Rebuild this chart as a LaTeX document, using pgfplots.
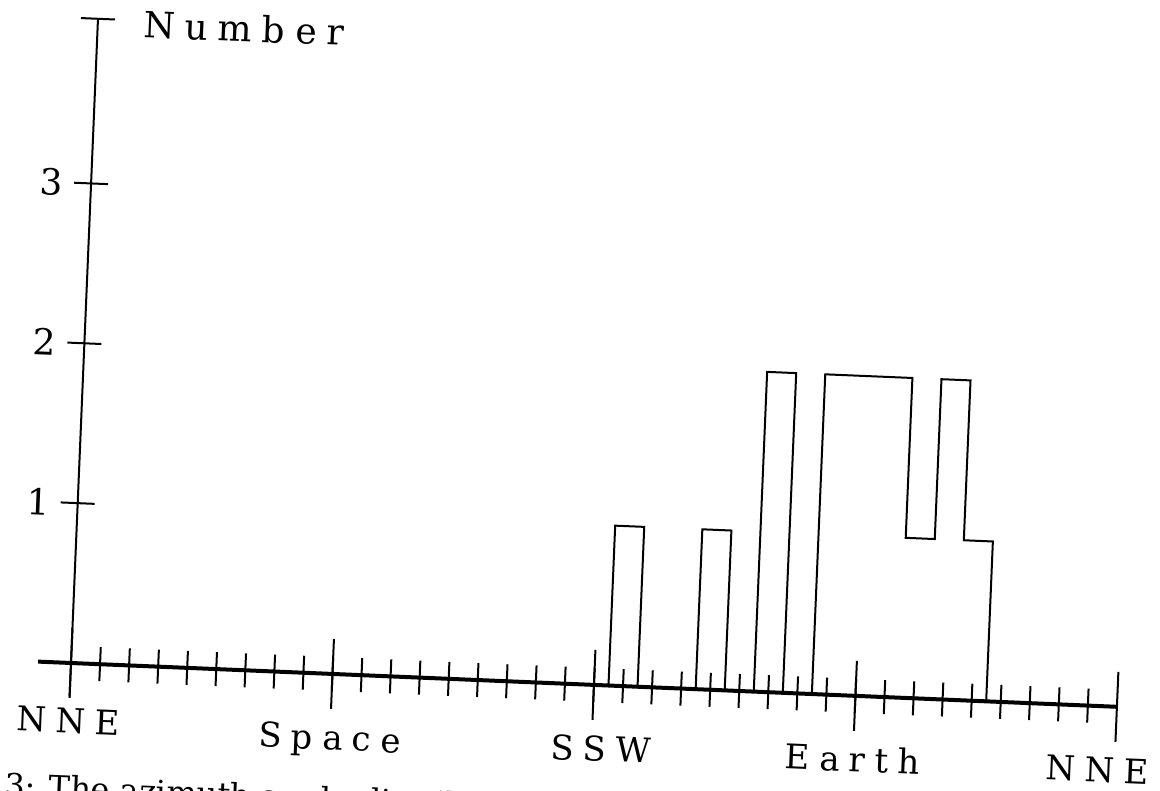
\documentclass[border=0pt]{standalone}
\usepackage{pgfplots}
\pgfplotsset{compat=1.18}
\usepackage{pgfplotstable}
\usepackage{fontspec}
\setmainfont{DejaVu Serif}
\newfontfamily\lblfont[LetterSpace=28]{DejaVu Serif}

\pgfplotstableread{
x y
0 0
1 0
2 0
3 0
4 0
5 0
6 0
7 0
8 0
9 0
10 0
11 0
12 0
13 0
14 0
15 0
16 0
17 0
18 0
19 1
20 0
21 0
22 1
23 0
24 2
25 0
26 2
27 2
28 2
29 1
30 2
31 1
32 0
33 0
34 0
35 0
36 0
}\histdata

\begin{document}
\begin{tikzpicture}
\useasboundingbox (0,0) rectangle (580pt,395.5pt);
\begin{scope}[shift={(35.5pt,64pt)}, rotate=-2.4, transform shape]
\begin{axis}[
  at={(0,0)}, anchor=origin,
  x=14.54pt, y=80pt,
  xmin=-1.13, xmax=36, ymin=-0.21, ymax=4.03,
  axis lines=middle,
  axis line style={-},
  x axis line style={line width=2pt},
  y axis line style={line width=1pt},
  clip=false,
  tick align=center,
  major tick length=17pt,
  every tick/.style={black, line width=1pt},
  xtick={1,...,35},
  xticklabels={},
  extra x ticks={0,9,18,27,36},
  extra x tick labels={\raisebox{3pt}{NNE},Space,\hspace*{10pt}SSW,Earth,NNE\hspace*{17pt}},
  extra x tick style={major tick length=35pt},
  ytick={1,2,3,4.03},
  yticklabels={1,2,3,{}},
  /pgf/number format/assume math mode=true,
  xticklabel style={font=\lblfont\fontsize{17}{20}\selectfont, anchor=base, yshift=-20.5pt},
  yticklabel style={font=\fontsize{18}{21}\selectfont, anchor=east, xshift=-2pt},
]
\addplot[const plot mark mid, line width=1pt, black] table {\histdata};
\node[anchor=west, font=\lblfont\fontsize{18}{21}\selectfont, inner sep=0pt] at (axis cs:1.56,4.01) {Number};
\end{axis}
\node[anchor=north west, font=\fontsize{16}{19}\selectfont, inner sep=0pt] at (-30.7pt,-55.9pt) {3: The azimuth angle distribution};
\end{scope}
\end{tikzpicture}
\end{document}
